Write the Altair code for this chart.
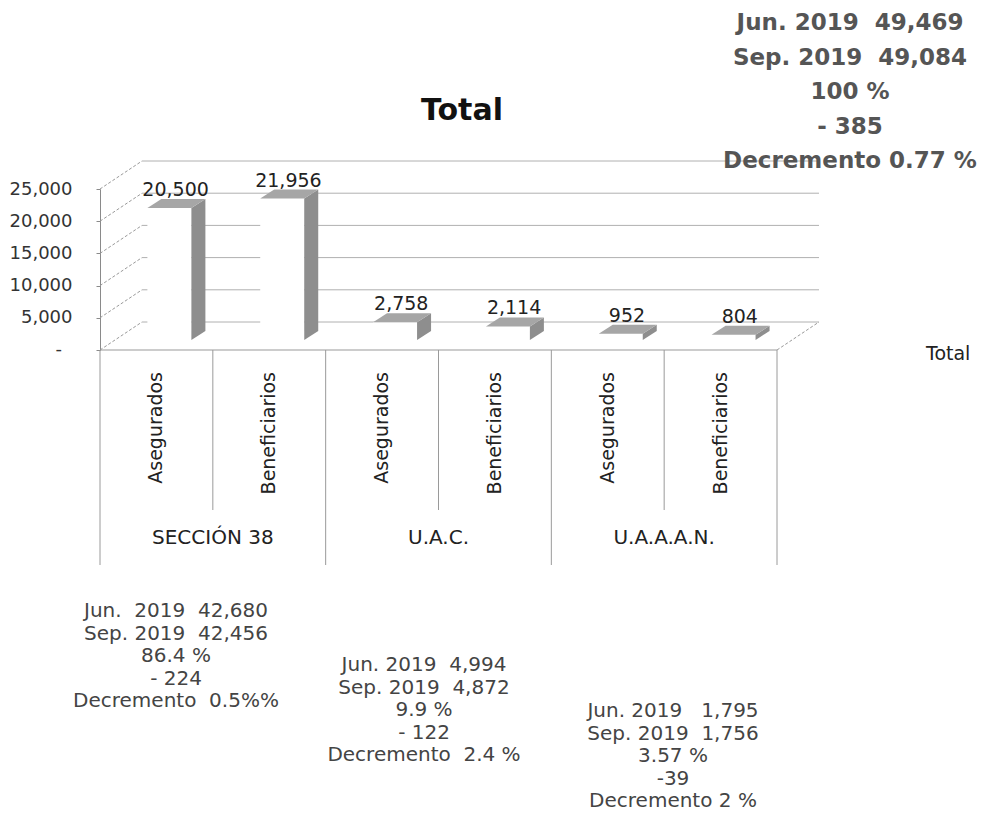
import altair as alt
import pandas as pd

# ---------------- data ----------------
categories = ["Asegurados", "Beneficiarios", "Asegurados", "Beneficiarios", "Asegurados", "Beneficiarios"]
groups = ["SECCIÓN 38", "SECCIÓN 38", "U.A.C.", "U.A.C.", "U.A.A.A.N.", "U.A.A.A.N."]
values = [20500, 21956, 2758, 2114, 952, 804]
group_names = ["SECCIÓN 38", "U.A.C.", "U.A.A.A.N."]
y_ticks = [0, 5000, 10000, 15000, 20000, 25000]
zero_label = "-"
series_name = "Total"
title_text = "Total"

total_lines = ["Jun. 2019  49,469", "Sep. 2019  49,084", "100 %", "- 385", "Decremento 0.77 %"]
seccion_lines = ["Jun.  2019  42,680", "Sep. 2019  42,456", "86.4 %", "- 224", "Decremento  0.5%%"]
uac_lines = ["Jun. 2019  4,994", "Sep. 2019  4,872", "9.9 %", "- 122", "Decremento  2.4 %"]
uaaan_lines = ["Jun. 2019   1,795", "Sep. 2019  1,756", "3.57 %", "-39", "Decremento 2 %"]


def nb(s):
    return s.replace("  ", " \u00a0")


bars = pd.DataFrame({
    "idx": list(range(len(values))),
    "cat": categories,
    "group": groups,
    "value": values,
})
grid_df = pd.DataFrame({"v": y_ticks})
groups_df = pd.DataFrame({"group": group_names, "g": list(range(len(group_names)))})
slots_df = pd.DataFrame({"k": list(range(len(values) + 1))})
one = pd.DataFrame({"a": [0]})

# ---------------- geometry / style ----------------
W, H = 677, 161
NCAT = len(values)
YMAX = 25000
UNIT = W / NCAT           # px per category
PX = YMAX / H             # value per px
BACK_DX = 42 / UNIT
BACK_DY = 28 * PX
BAR_X0, BAR_X1 = 0.42, 0.81
BAR_DX = 14 / UNIT
BAR_DY = 9 * PX
BASE = 10 * PX

FONT = "DejaVu Sans"
xs = alt.Scale(domain=[0, NCAT], nice=False, zero=False)
ys = alt.Scale(domain=[0, YMAX], nice=False, zero=False)

yaxis = alt.Axis(
    values=y_ticks,
    labelExpr="datum.value == 0 ? '' : format(datum.value, ',')",
    title=None, grid=False,
    domainColor="#8a8a8a", tickColor="#8a8a8a", tickSize=4,
    labelPadding=24, labelFont=FONT, labelFontSize=18, labelColor="#333333",
)


def Y(field, **kw):
    return alt.Y(field, scale=ys, axis=yaxis, **kw)


def X(field, **kw):
    return alt.X(field, scale=xs, axis=None, **kw)


# back wall gridlines
grid = alt.Chart(grid_df).transform_calculate(
    yb=f"datum.v + {BACK_DY}", xa=f"{BACK_DX}", xb=f"{NCAT + BACK_DX}"
).mark_rule(color="#b0b0b0", strokeWidth=1).encode(
    x=X("xa:Q"), x2="xb:Q", y=Y("yb:Q"),
)

# left wall diagonals
diag = alt.Chart(grid_df).transform_calculate(
    x0="0", x1=f"{BACK_DX}", y1=f"datum.v + {BACK_DY}"
).mark_rule(color="#999999", strokeWidth=1, strokeDash=[3, 2]).encode(
    x=X("x0:Q"), x2="x1:Q", y=Y("v:Q"), y2="y1:Q",
)

# right floor edge
floor_right = alt.Chart(one).mark_rule(color="#999999", strokeWidth=1, strokeDash=[3, 2]).encode(
    x=alt.X(datum=NCAT, scale=xs, axis=None), x2=alt.X2(datum=NCAT + BACK_DX),
    y=alt.Y(datum=0, scale=ys, axis=yaxis), y2=alt.Y2(datum=BACK_DY),
)

# front baseline
baseline = alt.Chart(one).mark_rule(color="#999999", strokeWidth=1).encode(
    x=alt.X(datum=0, scale=xs, axis=None), x2=alt.X2(datum=NCAT),
    y=alt.Y(datum=0, scale=ys, axis=yaxis),
)

# zero label of the value axis ("-")
zero_txt = alt.Chart(one).mark_text(
    text=zero_label, font=FONT, fontSize=18, color="#333333", align="right", baseline="middle"
).encode(x=alt.value(-38), y=alt.Y(datum=0, scale=ys, axis=yaxis))

# bar front faces (white)
front = alt.Chart(bars).transform_calculate(
    x0=f"datum.idx + {BAR_X0}", x1=f"datum.idx + {BAR_X1}",
    yb=f"{BASE}", yt=f"datum.value + {BASE}",
).mark_rect(fill="white").encode(
    x=X("x0:Q"), x2="x1:Q", y=Y("yt:Q"), y2="yb:Q",
)

# bar side faces
side = alt.Chart(bars).transform_calculate(c="[0, 1]").transform_flatten(["c"]).transform_calculate(
    sx=f"datum.idx + {BAR_X1} + datum.c * {BAR_DX}",
    sy=f"datum.value + {BASE} + datum.c * {BAR_DY}",
    sy2=f"{BASE} + datum.c * {BAR_DY}",
).mark_area(orient="vertical", color="#8e8e8e").encode(
    x=X("sx:Q"), y=Y("sy:Q", stack=None), y2="sy2:Q", detail="idx:N",
)

# bar top faces
top = alt.Chart(bars).transform_calculate(c="[0, 1]").transform_flatten(["c"]).transform_calculate(
    tx=f"datum.idx + {BAR_X0} + datum.c * {BAR_DX}",
    tx2=f"datum.idx + {BAR_X1} + datum.c * {BAR_DX}",
    ty=f"datum.value + {BASE} + datum.c * {BAR_DY}",
).mark_area(orient="horizontal", color="#a6a6a6").encode(
    y=Y("ty:Q"), x=X("tx:Q", stack=None), x2="tx2:Q", detail="idx:N",
)

# value labels
labels = alt.Chart(bars).transform_calculate(
    lx="datum.idx + 0.67", ly=f"datum.value + {BASE} + {BAR_DY}",
).mark_text(font=FONT, fontSize=19, color="#222222", baseline="bottom", dy=1).encode(
    x=X("lx:Q"), y=Y("ly:Q"), text=alt.Text("value:Q", format=","),
)

# category axis: dividers
outer_div = alt.Chart(slots_df).transform_filter("datum.k % 2 == 0").mark_rule(
    color="#9a9a9a", strokeWidth=1
).encode(x=X("k:Q"), y=alt.value(H), y2=alt.value(H + 215))
inner_div = alt.Chart(slots_df).transform_filter("datum.k % 2 == 1").mark_rule(
    color="#9a9a9a", strokeWidth=1
).encode(x=X("k:Q"), y=alt.value(H), y2=alt.value(H + 160))

cat_labels = alt.Chart(bars).transform_calculate(cx="datum.idx + 0.5").mark_text(
    font=FONT, fontSize=19, color="#222222", angle=270, align="right", baseline="middle"
).encode(x=X("cx:Q"), y=alt.value(H + 22), text="cat:N")

grp_labels = alt.Chart(groups_df).transform_calculate(gx="2 * datum.g + 1").mark_text(
    font=FONT, fontSize=20, color="#222222", baseline="middle"
).encode(x=X("gx:Q"), y=alt.value(H + 188), text="group:N")

legend_txt = alt.Chart(one).mark_text(
    text=series_name, font=FONT, fontSize=19, color="#222222", align="left", baseline="middle"
).encode(x=alt.value(826), y=alt.value(165))

title_mark = alt.Chart(one).mark_text(
    text=title_text, font=FONT, fontSize=30, fontWeight="bold", color="#111111", baseline="middle"
).encode(x=alt.value(362), y=alt.value(-78))


def block(lines, cx, ytop, size, lh, weight, color):
    return alt.Chart(one).mark_text(
        text=[nb(s) for s in lines], font=FONT, fontSize=size, fontWeight=weight,
        color=color, align="center", baseline="top", lineHeight=lh,
    ).encode(x=alt.value(cx), y=alt.value(ytop))


blk_total = block(total_lines, 750, -177, 23, 34.5, "bold", "#555555")
blk_sec = block(seccion_lines, 76, 412, 20, 22.5, "normal", "#444444")
blk_uac = block(uac_lines, 324, 466, 20, 22.5, "normal", "#444444")
blk_uaaan = block(uaaan_lines, 573, 512, 20, 22.5, "normal", "#444444")

chart = alt.layer(
    grid, diag, floor_right, baseline, zero_txt, front, side, top, labels,
    outer_div, inner_div, cat_labels, grp_labels, legend_txt, title_mark,
    blk_total, blk_sec, blk_uac, blk_uaaan,
).properties(
    width=W, height=H,
    background="white",
    autosize=alt.AutoSizeParams(type="none"),
    padding={"left": 92, "top": 181, "right": 204, "bottom": 463},
).configure_view(stroke=None)

chart.save("out.html", embed_options={"renderer": "svg", "actions": False})
